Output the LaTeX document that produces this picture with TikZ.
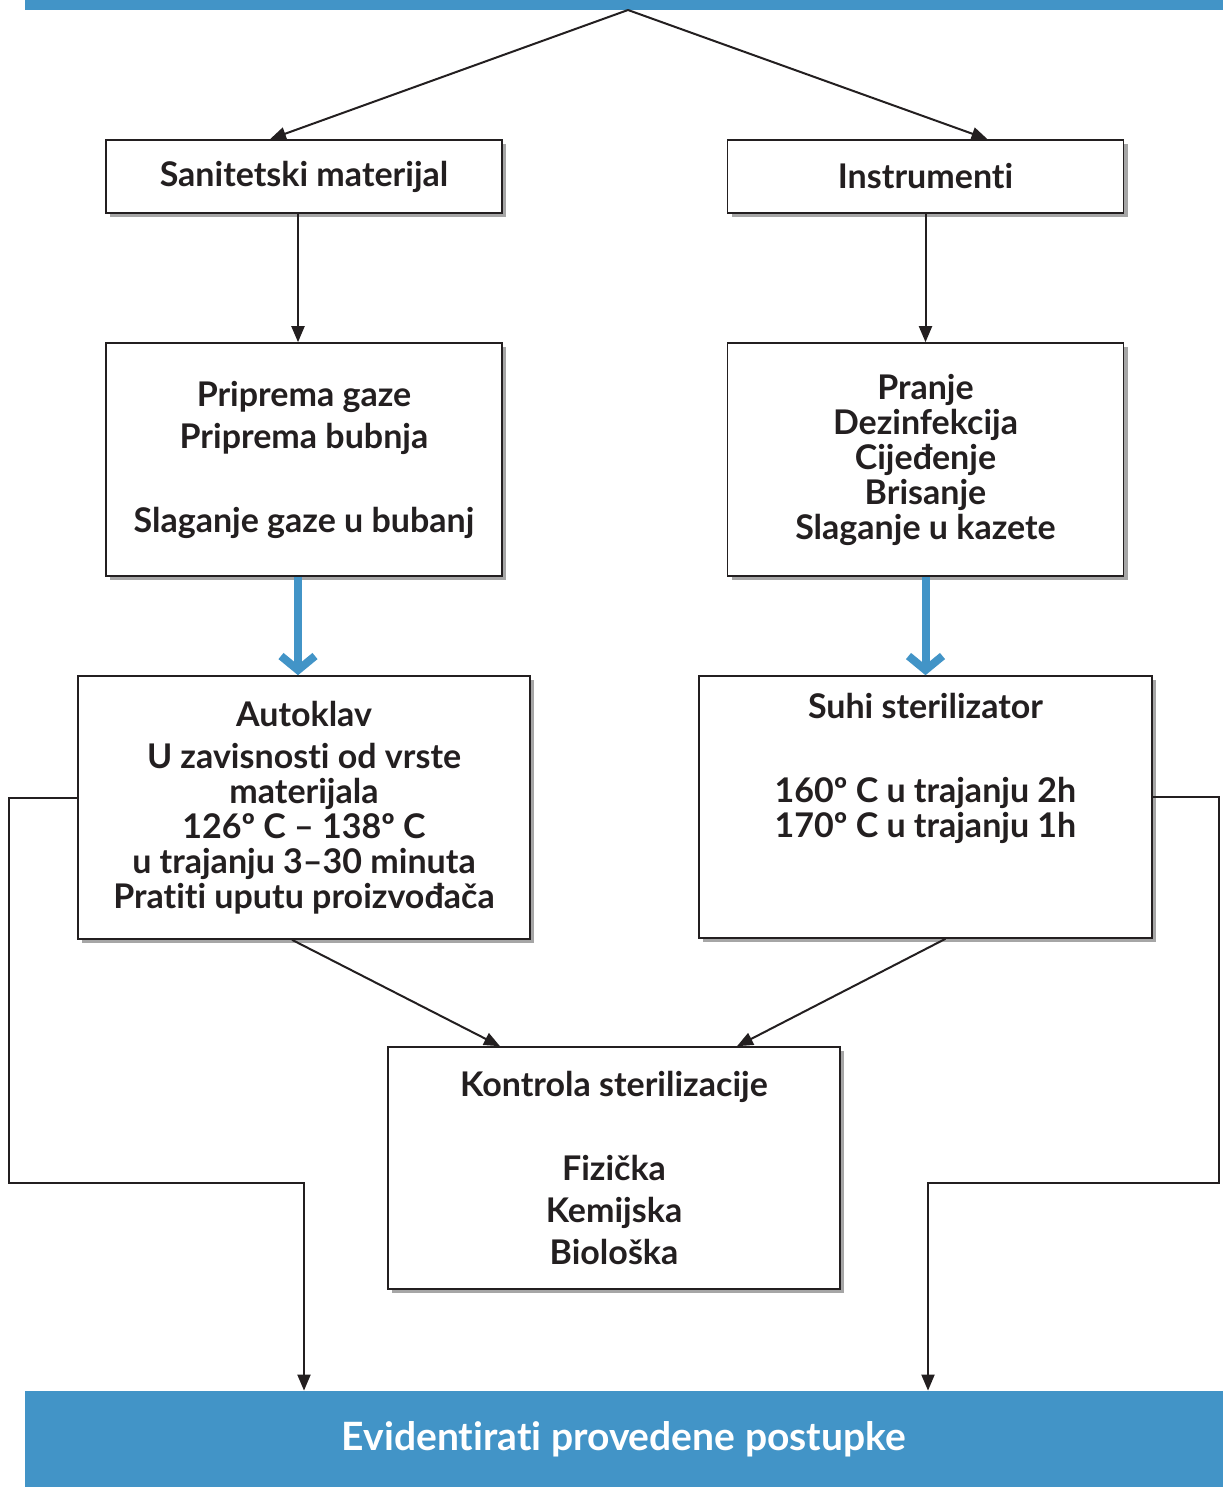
\documentclass[tikz,border=0pt]{standalone}
\usepackage{fontspec}
\setmainfont{Lato}[Ligatures={NoCommon}]
\usetikzlibrary{shadows}
\usetikzlibrary{positioning, arrows.meta}
\definecolor{barblue}{RGB}{66,148,199}
\definecolor{ink}{RGB}{35,31,32}

\begin{document}
\begin{tikzpicture}[x=0.5pt, y=-0.5pt,
  box/.style={draw=ink, line width=0.8pt, fill=white, align=center,
    font=\fontsize{17}{17.5}\selectfont\bfseries, text=ink,
    drop shadow={shadow xshift=2pt, shadow yshift=-2pt, fill=black, opacity=0.35}},
  link/.style={draw=ink, line width=1pt, -{Triangle[length=8pt,width=6.5pt]}},
  bluelink/.style={draw=barblue, line width=4pt, -{Straight Barb[length=7pt,width=17pt]}}
]
  \useasboundingbox (0,0) rectangle (1223,1487);
  % top and bottom bars
  \fill[barblue] (25,0) rectangle (1223,10);
  \coordinate (top) at (628,10);
  \node[fill=barblue, minimum width=599pt, minimum height=48pt, text=white,
    font=\fontsize{19.5}{22}\selectfont\bfseries] (evid) at (624,1439) {Evidentirati provedene postupke};
  % left branch
  \node[box, minimum width=198pt, minimum height=36.5pt] (sanitet) at (304,176.5) {Sanitetski materijal};
  \node[box, minimum width=198pt, minimum height=116.5pt] (priprema) at (304,459.5)
    {Priprema gaze\\[3.5pt]Priprema bubnja\\[24.5pt]Slaganje gaze u bubanj};
  \node[box, minimum width=226pt, minimum height=131.5pt] (autoklav) at (304,807.5)
    {Autoklav\\[3.5pt]U zavisnosti od vrste\\materijala\\126º C – 138º C\\u trajanju 3–30 minuta\\Pratiti uputu proizvođača};
  % right branch
  \node[box, minimum width=198pt, minimum height=36.5pt] (instr) at (925.5,176.5) {Instrumenti};
  \node[box, minimum width=198pt, minimum height=116.5pt] (pranje) at (925.5,459.5)
    {Pranje\\Dezinfekcija\\Cijeđenje\\Brisanje\\Slaganje u kazete};
  \node[box, minimum width=226.5pt, minimum height=131pt] (suhi) at (925.5,807)
    {Suhi sterilizator\\[24.5pt]160º C u trajanju 2h\\170º C u trajanju 1h\\[19pt]\strut};
  % control
  \node[box, minimum width=226pt, minimum height=121pt] (kontrola) at (614,1168)
    {Kontrola sterilizacije\\[24.5pt]Fizička\\[3.5pt]Kemijska\\[3.5pt]Biološka};
  % connectors
  \draw[link] (top) -- ([xshift=-17pt]sanitet.north);
  \draw[link] (top) -- ([xshift=31pt]instr.north);
  \draw[link] ([xshift=-3pt]sanitet.south) -- ([xshift=-3pt]priprema.north);
  \draw[link] (instr.south) -- (pranje.north);
  \draw[bluelink] ([xshift=-3pt]priprema.south) -- ([xshift=-3pt]autoklav.north);
  \draw[bluelink] (pranje.south) -- (suhi.north);
  \draw[link] ([xshift=-6pt]autoklav.south) -- ([xshift=-57pt]kontrola.north);
  \draw[link] ([xshift=10pt]suhi.south) -- ([xshift=61.5pt]kontrola.north);
  % side paths down to the bar
  \coordinate (lbend) at (9,1183);
  \coordinate (rbend) at (1219,1183);
  \draw[link] ([yshift=5pt]autoklav.west) -| (lbend) -| ([xshift=-160pt]evid.north);
  \draw[link] ([yshift=5pt]suhi.east) -| (rbend) -| ([xshift=152pt]evid.north);
\end{tikzpicture}
\end{document}
